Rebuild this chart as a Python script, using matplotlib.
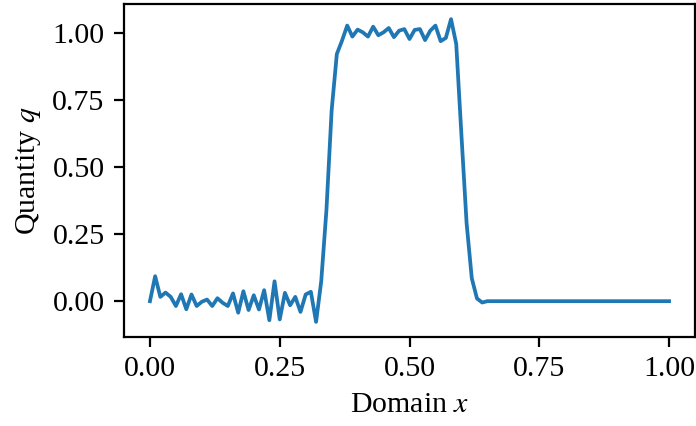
import matplotlib
matplotlib.use("Agg")
import matplotlib.pyplot as plt
import numpy as np

plt.rcParams['font.family'] = 'serif'
plt.rcParams['font.serif'] = ['Liberation Serif', 'DejaVu Serif']
plt.rcParams['mathtext.fontset'] = 'stix'
plt.rcParams['font.size'] = 21.5
plt.rcParams['axes.linewidth'] = 1.6
plt.rcParams['xtick.major.size'] = 7
plt.rcParams['ytick.major.size'] = 7
plt.rcParams['xtick.major.width'] = 1.6
plt.rcParams['ytick.major.width'] = 1.6
plt.rcParams['xtick.major.pad'] = 7
plt.rcParams['ytick.major.pad'] = 7
plt.rcParams['axes.labelpad'] = 7

# Solution samples on a uniform grid, x = 0.00 ... 1.00 (step 0.01)
x = np.linspace(0.0, 1.0, 101)

q_left = [0.0, 0.093, 0.016, 0.032, 0.016, -0.018, 0.026, -0.03, 0.025, -0.018,
          -0.002, 0.006, -0.018, 0.011, -0.006, -0.018, 0.029, -0.043, 0.037, -0.033,
          0.022, -0.031, 0.041, -0.071, 0.074, -0.068, 0.031, -0.015, 0.016, -0.04,
          0.025, 0.035, -0.077]
q_rise = [0.075, 0.34, 0.71, 0.92, 0.97]
q_top = [1.026, 0.985, 1.011, 1.001, 0.985, 1.022, 0.99, 1.001, 1.017, 0.983,
         1.007, 1.013, 0.976, 1.01, 1.013, 0.972, 1.007, 1.026, 0.968, 0.98,
         1.05, 0.958]
q_fall = [0.62, 0.29, 0.085, 0.01, -0.005]
q_right = [0.0] * 36

q = np.array(q_left + q_rise + q_top + q_fall + q_right)

fig = plt.figure(figsize=(6.96, 4.26), dpi=100)
ax = fig.add_axes([124 / 696, 89 / 426, 571 / 696, 333 / 426])
ax.plot(x, q, color='#1f77b4', lw=2.7)

ax.set_xlabel('Domain $x$')
ax.set_ylabel('Quantity $q$')
ax.set_xticks([0.0, 0.25, 0.5, 0.75, 1.0])
ax.set_yticks([0.0, 0.25, 0.5, 0.75, 1.0])
ax.xaxis.set_major_formatter(matplotlib.ticker.FormatStrFormatter('%.2f'))
ax.yaxis.set_major_formatter(matplotlib.ticker.FormatStrFormatter('%.2f'))

fig.savefig('out.png', dpi=100)
